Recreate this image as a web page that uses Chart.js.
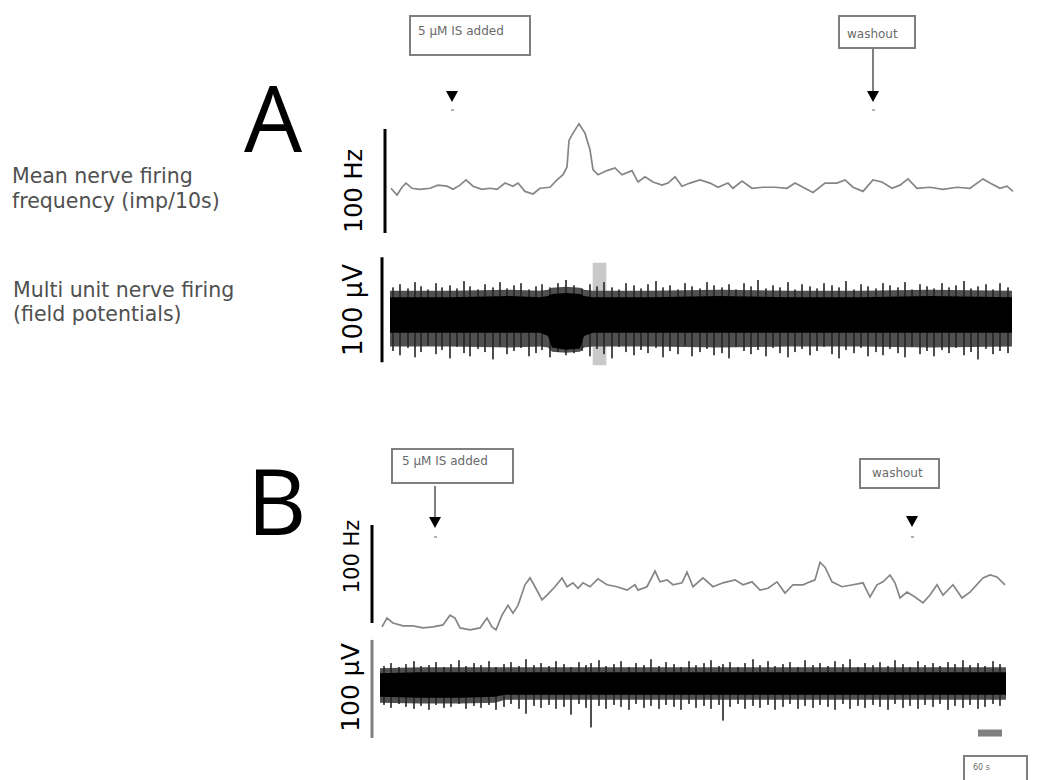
<!DOCTYPE html>
<html><head><meta charset="utf-8">
<script src="https://cdn.jsdelivr.net/npm/chart.js@4"></script>
<style>
html,body{margin:0;padding:0;background:#fff;}
body{width:1042px;height:780px;position:relative;overflow:hidden;font-family:"DejaVu Sans",sans-serif;}
canvas{position:absolute;}
.box{position:absolute;border:2.5px solid #7f7f7f;box-sizing:border-box;}
.boxtxt{position:absolute;font-size:12px;line-height:14px;color:#6a6a6a;white-space:nowrap;}
.big{position:absolute;font-family:"Open Sans",sans-serif;font-size:92px;line-height:92px;color:#000;}
.rot{position:absolute;transform:rotate(-90deg);white-space:nowrap;text-align:center;color:#000;}
.side{position:absolute;font-size:20.5px;color:#505050;white-space:nowrap;}
.tri{position:absolute;width:0;height:0;border-left:6px solid transparent;border-right:6px solid transparent;border-top:11px solid #000;}
.stem{position:absolute;width:2px;background:#7f7f7f;}
.dot{position:absolute;width:3px;height:2px;background:#b0b0b0;}
</style></head><body>

<div class="big" style="left:244px;top:71px;">A</div>
<div class="big" style="left:247px;top:454px;">B</div>

<div class="side" style="left:12px;top:164px;line-height:25px;">Mean nerve firing<br>frequency (imp/10s)</div>
<div class="side" style="left:13px;top:278px;line-height:24px;">Multi unit nerve firing<br>(field potentials)</div>

<div class="rot" style="left:304px;top:179px;width:100px;height:24px;line-height:24px;font-size:24px;">100 Hz</div>
<div class="rot" style="left:298px;top:297px;width:110px;height:26px;line-height:26px;font-size:26px;">100 µV</div>
<div class="rot" style="left:302px;top:546px;width:100px;height:21px;line-height:21px;font-size:21px;">100 Hz</div>
<div class="rot" style="left:295px;top:675px;width:110px;height:25px;line-height:25px;font-size:25px;">100 µV</div>

<div class="box" style="left:409px;top:15px;width:122px;height:41px;"></div>
<div class="boxtxt" style="left:418px;top:24px;">5 µM IS added</div>
<div class="box" style="left:838px;top:15px;width:78px;height:34px;"></div>
<div class="boxtxt" style="left:847px;top:27px;">washout</div>

<div class="box" style="left:391px;top:448px;width:123px;height:36px;"></div>
<div class="boxtxt" style="left:402px;top:454px;">5 µM IS added</div>
<div class="box" style="left:859px;top:458px;width:81px;height:31px;"></div>
<div class="boxtxt" style="left:872px;top:466px;">washout</div>

<div class="box" style="left:963px;top:755px;width:65px;height:40px;"></div>
<div class="boxtxt" style="left:973px;top:761px;font-size:8px;">60 s</div>

<canvas id="aFreq" width="660" height="150" style="left:370px;top:100px;"></canvas>
<canvas id="aField" width="660" height="115" style="left:370px;top:255px;"></canvas>
<canvas id="bFreq" width="660" height="140" style="left:360px;top:500px;"></canvas>
<canvas id="bField" width="670" height="115" style="left:360px;top:630px;"></canvas>

<script>
// ---------- DATA ----------
// Panel A: mean nerve firing frequency (Hz) vs time (s)
const aTime = [1,7,12,16,22,30,40,48,57,63,70,76,83,92,100,107,115,123,128,135,143,150,160,167,173,177,179,183,189,195,200,203,208,217,225,232,242,248,255,263,272,278,285,292,300,310,320,328,338,343,352,362,373,385,397,405,413,423,435,447,455,463,473,483,492,502,510,518,527,540,553,567,580,593,600,610,617,623];
const aFreq = [43,36.5,44,48,43,42,43,46,45,42,46,51,45,42,43,42,48,45,48,40,37.5,43,44,51,56,63.5,89,96,105,96,80,61,56,60,62.5,56,60,49,54,49,46,48,54,45,48,51,48,44,48,43,50,43,44,44,43,48,44,39,48,48,51,44,40,51,49,43,46,52,43,44,42,44,43,52,48,43,45,40];

// Panel A: multi unit field potentials (µV) — envelope of the dense band
const aEnvTime  = [0,60,120,150,158,162,176,190,194,203,260,330,400,470,540,622];
const aCoreTop  = [17,17,18,17,18,20,21,20,18,17,17,18,17,17,18,17];
const aCoreBot  = [-17,-17,-17,-17,-20,-31,-33,-32,-20,-17,-17,-17,-17,-17,-17,-17];
const aFrinTop  = [23,23,24,23,24,26,27,26,24,23,23,24,23,23,24,23];
const aFrinBot  = [-30,-30,-31,-30,-31,-35,-36,-35,-31,-30,-30,-31,-30,-30,-31,-30];
// Panel A: larger individual spikes
const aSpikeTime = [3,10,18,25,31,38,46,52,60,67,74,80,88,95,103,110,117,124,131,139,146,152,160,168,176,184,192,200,207,214,222,229,236,244,251,258,266,273,280,288,295,302,310,317,324,332,339,346,354,361,368,376,383,390,398,405,412,420,427,434,442,449,456,464,471,478,486,493,500,508,515,522,530,537,544,552,559,566,574,581,588,596,603,610,618];
const aSpikeHi = [26,29,25,31,27,24,30,26,28,25,32,27,24,29,26,31,25,28,30,24,27,29,26,30,33,28,25,29,27,31,26,24,30,28,25,29,32,26,28,24,30,27,25,31,28,26,29,24,30,27,33,25,28,26,31,24,29,27,25,30,28,26,32,24,29,27,25,30,28,26,31,24,29,27,25,30,26,28,32,25,27,29,24,30,26];
const aSpikeLo = [-34,-38,-31,-40,-35,-29,-37,-33,-41,-30,-36,-39,-32,-35,-42,-30,-37,-34,-31,-39,-36,-33,-40,-35,-38,-36,-34,-39,-32,-37,-41,-30,-35,-38,-33,-36,-31,-40,-34,-37,-29,-39,-35,-32,-38,-36,-41,-30,-34,-37,-33,-39,-31,-36,-40,-35,-32,-38,-34,-30,-37,-41,-33,-36,-31,-39,-35,-38,-32,-36,-40,-30,-37,-34,-39,-33,-36,-31,-38,-35,-42,-32,-37,-34,-36];
// Panel A: highlighted sample window (time, µV range)
const aMarkTime = [209.5];
const aMarkRange = [[-47.6, 49.5]];

// Panel B: mean nerve firing frequency (Hz) vs time (s)
const bTime = [2,7,13,23,33,43,53,63,70,75,80,90,100,107,112,116,122,128,133,138,145,150,155,162,167,175,182,187,193,198,203,210,218,227,237,247,255,258,267,275,280,287,293,302,307,313,323,333,343,355,363,372,380,388,397,405,413,423,430,435,440,445,452,462,473,483,490,497,503,510,515,520,527,535,543,550,557,563,573,582,590,603,610,617,625];
const bFreq = [6,15,10,7,7,5,6,8,18,15,5,3,5,15,6,3,18,28,20,28,49,56,47,33.5,38.5,47,56,47,51,45.5,51,47,55,49,47,43.5,49,43.5,47,63,52,54,49,51,62,47,56,47,51,54,49,52,43.5,45.5,52,40.5,49,49,52,54,72,67,52,47,49,51,36.5,49,52,59,51,35.5,41.5,36.5,30.5,38.5,49,38.5,49,35.5,41.5,56,59,57,49];

// Panel B: field potentials (µV)
const bEnvTime = [0,40,80,115,125,200,300,400,500,600,626];
const bCoreTop = [12,13,13,13,13,13,13,13,13,13,13];
const bCoreBot = [-12,-13,-13,-12,-10,-10,-10,-10,-10,-10,-10];
const bFrinTop = [17,18,18,18,18,18,18,18,18,18,18];
const bFrinBot = [-18,-19,-19,-18,-15,-15,-15,-15,-15,-15,-15];
const bSpikeTime = [4,11,19,26,34,41,49,56,64,71,79,86,94,101,109,116,124,131,139,146,154,161,169,176,184,191,199,206,211,219,226,234,241,249,256,264,271,279,286,294,301,309,316,324,331,339,343,350,358,365,373,380,388,395,403,410,418,425,433,440,448,455,463,470,478,485,493,500,508,515,523,530,538,545,553,560,568,575,583,590,598,605,613,620];
const bSpikeHi = [19,22,18,21,24,19,20,23,18,21,25,19,22,20,24,18,21,23,19,26,20,22,19,24,21,18,23,20,22,25,19,21,24,18,22,20,26,19,23,21,18,24,20,22,25,19,21,23,18,22,26,20,24,19,21,23,18,25,20,22,19,24,21,26,18,22,20,23,19,25,21,18,24,20,22,19,23,21,25,20,22,19,24,21];
const bSpikeLo = [-20,-23,-19,-22,-24,-21,-25,-20,-23,-22,-19,-24,-21,-23,-20,-25,-22,-19,-24,-29,-21,-23,-20,-24,-22,-30,-19,-23,-43,-21,-24,-20,-22,-25,-19,-23,-21,-24,-20,-22,-25,-19,-23,-21,-24,-20,-36,-22,-19,-24,-21,-23,-20,-25,-22,-19,-24,-21,-23,-20,-22,-25,-19,-24,-21,-23,-20,-22,-25,-19,-23,-21,-24,-20,-22,-19,-25,-21,-23,-20,-24,-22,-19,-21];

// Scale bars (value ranges) and event times
const aHzBar = [0, 100];
const aUvBar = [-45, 55];
const bHzBar = [10, 110];
const bUvBar = [-54, 46];
const bTimeBar = [598, 622];   // time calibration bar (s)
const bTimeBarLevel = -49;
const aEvents = [62, 483];     // IS added, washout
const bEvents = [55, 532];

// ---------- HELPERS ----------
const pts = (xs, ys) => xs.map((x, i) => ({x: x, y: ys[i]}));
const rng = (xs, lo, hi) => xs.map((x, i) => ({x: x, y: [lo[i], hi[i]]}));

function barsPlugin(list) {
  return {
    id: 'calib',
    afterDraw(chart) {
      const c = chart.ctx, a = chart.chartArea, xs = chart.scales.x, ys = chart.scales.y;
      c.save();
      list.forEach(b => {
        c.strokeStyle = b.color; c.lineWidth = b.width; c.lineCap = 'butt';
        c.beginPath();
        if (b.kind === 'v') {
          const x = a.left - b.gap;
          c.moveTo(x, ys.getPixelForValue(b.range[0]));
          c.lineTo(x, ys.getPixelForValue(b.range[1]));
        } else {
          const y = ys.getPixelForValue(b.level);
          c.moveTo(xs.getPixelForValue(b.range[0]), y);
          c.lineTo(xs.getPixelForValue(b.range[1]), y);
        }
        c.stroke();
      });
      c.restore();
    }
  };
}

function baseOpts(xmax, ymin, ymax, pad) {
  return {
    responsive: false, animation: false, events: [],
    layout: {padding: pad},
    plugins: {legend: {display: false}, tooltip: {enabled: false}},
    scales: {
      x: {type: 'linear', display: false, min: 0, max: xmax, offset: false},
      y: {type: 'linear', display: false, min: ymin, max: ymax}
    }
  };
}

function freqChart(id, xs, ys, xmax, ymin, ymax, pad, bars) {
  return new Chart(document.getElementById(id), {
    type: 'line',
    data: {datasets: [{data: pts(xs, ys), borderColor: '#858585', borderWidth: 1.7,
      pointRadius: 0, tension: 0, fill: false}]},
    options: baseOpts(xmax, ymin, ymax, pad),
    plugins: [barsPlugin(bars)]
  });
}

function fieldChart(id, d, xmax, ymin, ymax, pad, bars) {
  const line = (xs, ys, order, fill, bg) => ({type: 'line', data: pts(xs, ys), borderWidth: 0,
    borderColor: 'rgba(0,0,0,0)', pointRadius: 0, tension: 0, order: order,
    fill: fill, backgroundColor: bg});
  const ds = [];
  if (d.markTime) {
    ds.push({type: 'bar', data: d.markTime.map((t, i) => ({x: t, y: d.markRange[i]})),
      backgroundColor: '#c9c9c9', barThickness: 13, grouped: false, order: 7});
  } else {
    ds.push({type: 'bar', data: [], order: 7});
  }
  ds.push(line(d.env, d.frinTop, 6, false, '#505050'));
  ds.push(line(d.env, d.frinBot, 5, '-1', '#505050'));
  ds.push({type: 'bar', data: rng(d.st, d.sl, d.sh), backgroundColor: 'rgba(35,35,35,0.8)',
    barThickness: 1.4, grouped: false, order: 4});
  ds.push(line(d.env, d.coreTop, 3, false, '#000'));
  ds.push(line(d.env, d.coreBot, 2, '-1', '#000'));
  return new Chart(document.getElementById(id), {
    type: 'bar',
    data: {datasets: ds},
    options: baseOpts(xmax, ymin, ymax, pad),
    plugins: [barsPlugin(bars)]
  });
}

// ---------- CHARTS ----------
const cAF = freqChart('aFreq', aTime, aFreq, 625, -16.35, 127.88,
  {left: 20, right: 15, top: 0, bottom: 0},
  [{kind: 'v', gap: 5, range: aHzBar, width: 3, color: '#000'}]);

fieldChart('aField', {env: aEnvTime, coreTop: aCoreTop, coreBot: aCoreBot, frinTop: aFrinTop,
  frinBot: aFrinBot, st: aSpikeTime, sh: aSpikeHi, sl: aSpikeLo, markTime: aMarkTime, markRange: aMarkRange},
  622, -52.38, 57.14, {left: 20, right: 18, top: 0, bottom: 0},
  [{kind: 'v', gap: 8, range: aUvBar, width: 3, color: '#000'}]);

const cBF = freqChart('bFreq', bTime, bFreq, 628, -7.35, 135.51,
  {left: 20, right: 12, top: 0, bottom: 0},
  [{kind: 'v', gap: 8, range: bHzBar, width: 3, color: '#000'}]);

fieldChart('bField', {env: bEnvTime, coreTop: bCoreTop, coreBot: bCoreBot, frinTop: bFrinTop,
  frinBot: bFrinBot, st: bSpikeTime, sh: bSpikeHi, sl: bSpikeLo},
  626, -61.22, 56.12, {left: 20, right: 24, top: 0, bottom: 0},
  [{kind: 'v', gap: 8, range: bUvBar, width: 3, color: '#7f7f7f'},
   {kind: 'h', level: bTimeBarLevel, range: bTimeBar, width: 7, color: '#808080'}]);

// ---------- EVENT ARROWS ----------
function el(cls, x, y, w, h) {
  const e = document.createElement('div');
  e.className = cls; e.style.left = x + 'px'; e.style.top = y + 'px';
  if (w) e.style.width = w + 'px';
  if (h) e.style.height = h + 'px';
  document.body.appendChild(e);
}
function arrow(chart, t, triTop, stemTop, dotTop) {
  const cv = chart.canvas;
  const x = cv.offsetLeft + chart.scales.x.getPixelForValue(t);
  if (stemTop !== null) el('stem', Math.round(x - 1), stemTop, 2, triTop - stemTop + 2);
  el('tri', Math.round(x - 6), triTop);
  el('dot', Math.round(x - 1.5), dotTop);
}
arrow(cAF, aEvents[0], 91, null, 109);
arrow(cAF, aEvents[1], 91, 49, 109);
arrow(cBF, bEvents[0], 517, 486, 536);
arrow(cBF, bEvents[1], 516, null, 536);
</script>
</body></html>
